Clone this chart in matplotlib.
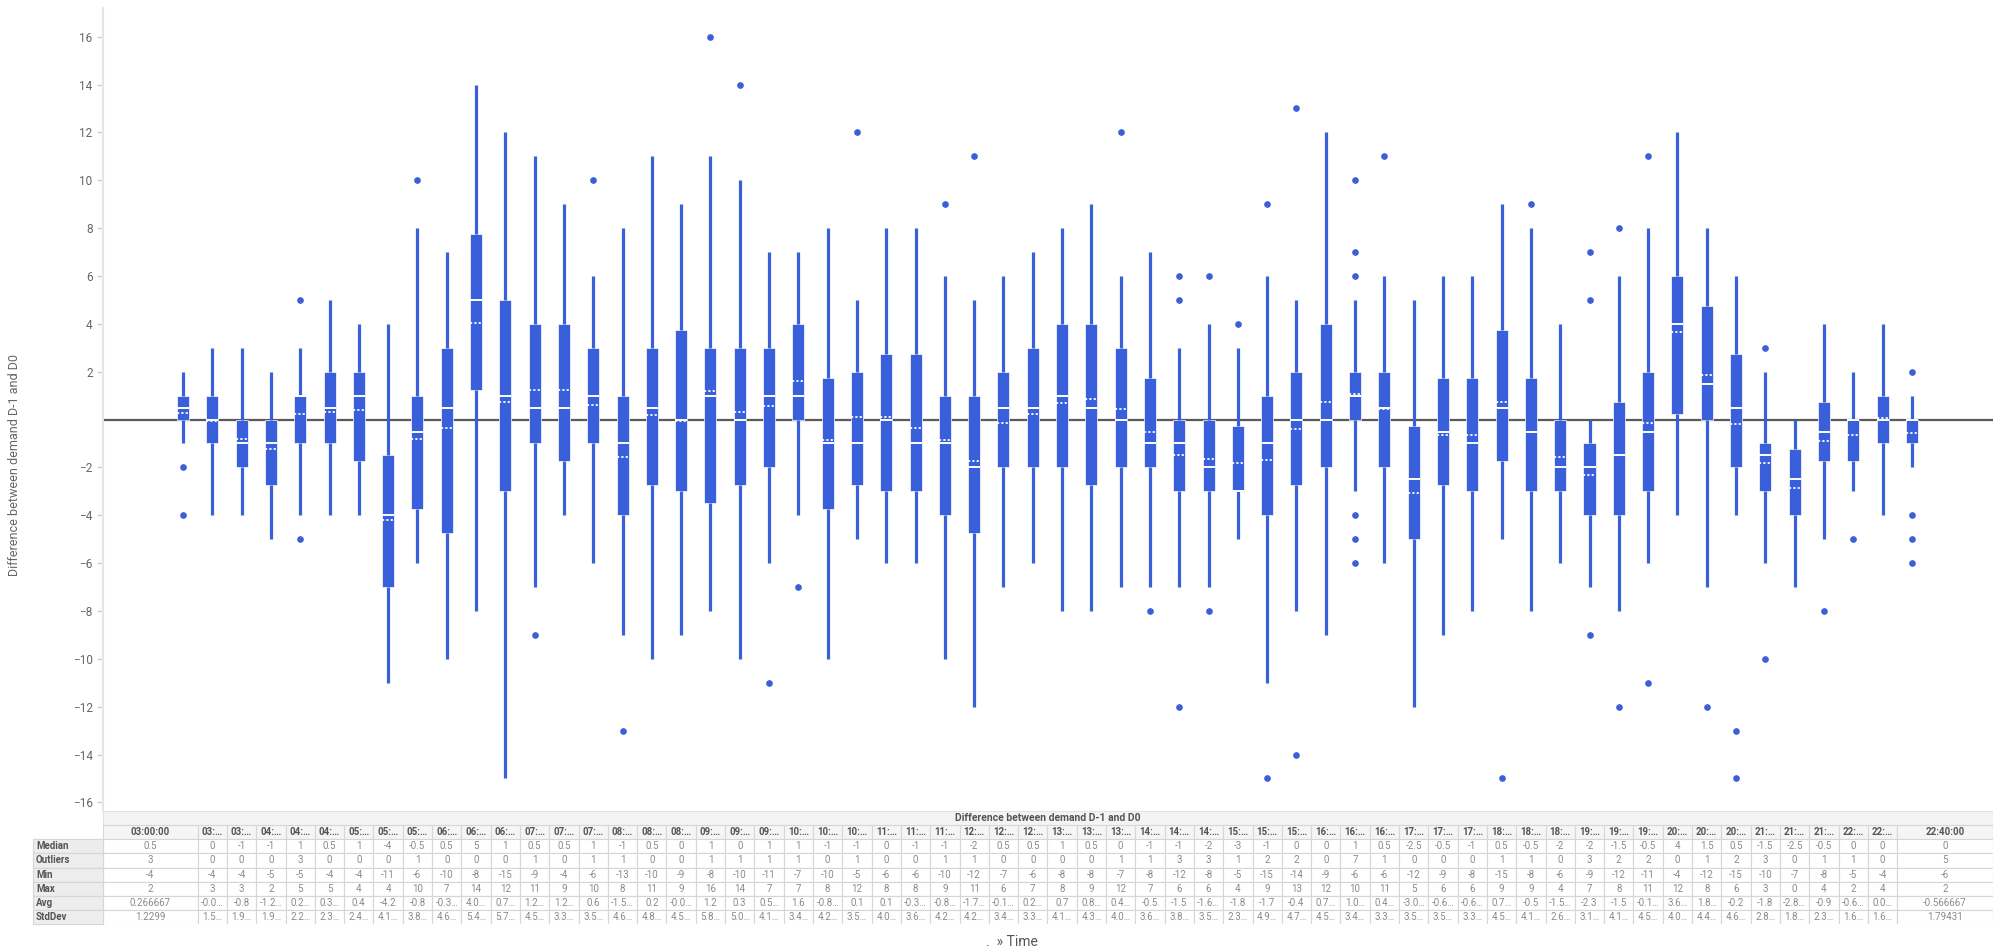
import matplotlib.pyplot as plt
from matplotlib.patches import Rectangle

plt.rcParams['font.family'] = ['Roboto', 'DejaVu Sans']

times = ['03:00:00', '03:20:00', '03:40:00', '04:00:00', '04:20:00', '04:40:00',
         '05:00:00', '05:20:00', '05:40:00', '06:00:00', '06:20:00', '06:40:00',
         '07:00:00', '07:20:00', '07:40:00', '08:00:00', '08:20:00', '08:40:00',
         '09:00:00', '09:20:00', '09:40:00', '10:00:00', '10:20:00', '10:40:00',
         '11:00:00', '11:20:00', '11:40:00', '12:00:00', '12:20:00', '12:40:00',
         '13:00:00', '13:20:00', '13:40:00', '14:00:00', '14:20:00', '14:40:00',
         '15:00:00', '15:20:00', '15:40:00', '16:00:00', '16:20:00', '16:40:00',
         '17:00:00', '17:20:00', '17:40:00', '18:00:00', '18:20:00', '18:40:00',
         '19:00:00', '19:20:00', '19:40:00', '20:00:00', '20:20:00', '20:40:00',
         '21:00:00', '21:20:00', '21:40:00', '22:00:00', '22:20:00', '22:40:00']

median = [0.5, 0, -1, -1, 1, 0.5, 1, -4, -0.5, 0.5,
          5, 1, 0.5, 0.5, 1, -1, 0.5, 0, 1, 0,
          1, 1, -1, -1, 0, -1, -1, -2, 0.5, 0.5,
          1, 0.5, 0, -1, -1, -2, -3, -1, 0, 0,
          1, 0.5, -2.5, -0.5, -1, 0.5, -0.5, -2, -2, -1.5,
          -0.5, 4, 1.5, 0.5, -1.5, -2.5, -0.5, 0, 0, 0]
q1 = [0, -1, -2, -2.75, -1, -1, -1.75, -7, -3.75, -4.75,
      1.25, -3, -1, -1.75, -1, -4, -2.75, -3, -3.5, -2.75,
      -2, 0, -3.75, -2.75, -3, -3, -4, -4.75, -2, -2,
      -2, -2.75, -2, -2, -3, -3, -3, -4, -2.75, -2,
      0, -2, -5, -2.75, -3, -1.75, -3, -3, -4, -4,
      -3, 0.25, 0, -2, -3, -4, -1.75, -1.75, -1, -1]
q3 = [1, 1, 0, 0, 1, 2, 2, -1.5, 1, 3,
      7.75, 5, 4, 4, 3, 1, 3, 3.75, 3, 3,
      3, 4, 1.75, 2, 2.75, 2.75, 1, 1, 2, 3,
      4, 4, 3, 1.75, 0, 0, -0.25, 1, 2, 4,
      2, 2, -0.25, 1.75, 1.75, 3.75, 1.75, 0, -1, 0.75,
      2, 6, 4.75, 2.75, -1, -1.25, 0.75, 0, 1, 0]
whis_lo = [-1, -4, -4, -5, -4, -4, -4, -11, -6, -10,
           -8, -15, -7, -4, -6, -9, -10, -9, -8, -10,
           -6, -4, -10, -5, -6, -6, -10, -12, -7, -6,
           -8, -8, -7, -7, -7, -7, -5, -11, -8, -9,
           -3, -6, -12, -9, -8, -5, -8, -6, -7, -8,
           -6, -4, -7, -4, -6, -7, -5, -3, -4, -2]
whis_hi = [2, 3, 3, 2, 3, 5, 4, 4, 8, 7,
           14, 12, 11, 9, 6, 8, 11, 9, 11, 10,
           7, 7, 8, 5, 8, 8, 6, 5, 6, 7,
           8, 9, 6, 7, 3, 4, 3, 6, 5, 12,
           5, 6, 5, 6, 6, 9, 8, 4, 0, 6,
           8, 12, 8, 6, 2, 0, 4, 2, 4, 1]
mean = [0.267, -0.05, -0.8, -1.25, 0.25, 0.33, 0.4, -4.2, -0.8, -0.35,
        4.05, 0.75, 1.22, 1.22, 0.6, -1.55, 0.2, -0.05, 1.2, 0.3,
        0.55, 1.6, -0.85, 0.1, 0.1, -0.35, -0.85, -1.75, -0.15, 0.25,
        0.7, 0.85, 0.45, -0.5, -1.5, -1.65, -1.8, -1.7, -0.4, 0.75,
        1.05, 0.45, -3.05, -0.65, -0.65, 0.75, -0.5, -1.55, -2.3, -1.5,
        -0.15, 3.65, 1.85, -0.2, -1.8, -2.85, -0.9, -0.65, 0.05, -0.567]
outliers = [[-2, -4], [], [], [], [5, -5], [], [], [], [10], [],
            [], [], [-9], [], [10], [-13], [], [], [16], [14],
            [-11], [-7], [], [12], [], [], [9], [11], [], [],
            [], [], [12], [-8], [6, 5, -12], [6, -8], [4], [9, -15], [13, -14], [],
            [10, 7, 6, -4, -5, -6], [11], [], [], [], [-15], [9], [], [7, 5, -9], [8, -12],
            [11, -11], [], [-12], [-13, -15], [3, -10], [], [-8], [-5], [], [2, -4, -5, -6]]

n_outliers = [3, 0, 0, 0, 3, 0, 0, 0, 1, 0,
              0, 0, 1, 0, 1, 1, 0, 0, 1, 1,
              1, 1, 0, 1, 0, 0, 1, 1, 0, 0,
              0, 0, 1, 1, 3, 3, 1, 2, 2, 0,
              7, 1, 0, 0, 0, 1, 1, 0, 3, 2,
              2, 0, 1, 2, 3, 0, 1, 1, 0, 5]
min_val = [-4, -4, -4, -5, -5, -4, -4, -11, -6, -10,
           -8, -15, -9, -4, -6, -13, -10, -9, -8, -10,
           -11, -7, -10, -5, -6, -6, -10, -12, -7, -6,
           -8, -8, -7, -8, -12, -8, -5, -15, -14, -9,
           -6, -6, -12, -9, -8, -15, -8, -6, -9, -12,
           -11, -4, -12, -15, -10, -7, -8, -5, -4, -6]
max_val = [2, 3, 3, 2, 5, 5, 4, 4, 10, 7,
           14, 12, 11, 9, 10, 8, 11, 9, 16, 14,
           7, 7, 8, 12, 8, 8, 9, 11, 6, 7,
           8, 9, 12, 7, 6, 6, 4, 9, 13, 12,
           10, 11, 5, 6, 6, 9, 9, 4, 7, 8,
           11, 12, 8, 6, 3, 0, 4, 2, 4, 2]
avg_txt = ['0.266667', '-0.0…', '-0.8', '-1.2…', '0.2…', '0.3…', '0.4', '-4.2', '-0.8', '-0.3…',
           '4.0…', '0.7…', '1.2…', '1.2…', '0.6', '-1.5…', '0.2', '-0.0…', '1.2', '0.3',
           '0.5…', '1.6', '-0.8…', '0.1', '0.1', '-0.3…', '-0.8…', '-1.7…', '-0.1…', '0.2…',
           '0.7', '0.8…', '0.4…', '-0.5', '-1.5', '-1.6…', '-1.8', '-1.7', '-0.4', '0.7…',
           '1.0…', '0.4…', '-3.0…', '-0.6…', '-0.6…', '0.7…', '-0.5', '-1.5…', '-2.3', '-1.5',
           '-0.1…', '3.6…', '1.8…', '-0.2', '-1.8', '-2.8…', '-0.9', '-0.6…', '0.0…', '-0.566667']
std_txt = ['1.2299', '1.5…', '1.9…', '1.9…', '2.2…', '2.3…', '2.4…', '4.1…', '3.8…', '4.6…',
           '5.4…', '5.7…', '4.5…', '3.3…', '3.5…', '4.6…', '4.8…', '4.5…', '5.8…', '5.0…',
           '4.1…', '3.4…', '4.2…', '3.5…', '4.0…', '3.6…', '4.2…', '4.2…', '3.4…', '3.3…',
           '4.1…', '4.3…', '4.0…', '3.6…', '3.8…', '3.5…', '2.3…', '4.9…', '4.7…', '4.5…',
           '3.4…', '3.3…', '3.5…', '3.5…', '3.3…', '4.5…', '4.1…', '2.6…', '3.1…', '4.1…',
           '4.5…', '4.0…', '4.4…', '4.6…', '2.8…', '1.8…', '2.3…', '1.6…', '1.6…', '1.79431']
row_names = ['Median', 'Outliers', 'Min', 'Max', 'Avg', 'StdDev']

blue = '#3a5fdb'
n = len(times)
xl, xr = -2.73, 61.77

fig = plt.figure(figsize=(19.99, 9.51), dpi=100)
ax = fig.add_axes([103 / 1999, 1 - 811 / 951, 1890 / 1999, 803 / 951])

stats = []
for i in range(n):
    stats.append(dict(med=median[i], q1=q1[i], q3=q3[i], whislo=whis_lo[i],
                      whishi=whis_hi[i], mean=mean[i], fliers=outliers[i]))

ax.axhline(0, color='#5a5a5a', lw=1.6, zorder=1)
ax.bxp(stats, positions=range(n), widths=0.41, patch_artist=True,
       showmeans=True, meanline=True, showcaps=False,
       boxprops=dict(facecolor=blue, edgecolor='white', linewidth=0.5),
       whiskerprops=dict(color=blue, linewidth=2.3, solid_capstyle='butt'),
       medianprops=dict(color='white', linewidth=1.4),
       meanprops=dict(color='white', linestyle=(0, (1.2, 1.2)), linewidth=1.3),
       flierprops=dict(marker='o', markersize=3.8, markerfacecolor=blue,
                       markeredgecolor=blue))

ax.set_xlim(xl, xr)
ax.set_ylim(-16.36, 17.2)
ax.set_xticks([])
ax.set_yticks([v for v in range(-16, 17, 2) if v != 0])
ax.tick_params(axis='y', colors='#cccccc', labelcolor='#666666', labelsize=8.5, length=4, width=1)
for s in ['top', 'right', 'bottom']:
    ax.spines[s].set_visible(False)
ax.spines['left'].set_color('#e4e4ec')
ax.spines['left'].set_linewidth(1.5)

fig.text(15 / 1999, 1 - 465 / 951, 'Difference between demand D-1 and D0', rotation=90,
         ha='center', va='center', fontsize=9, color='#666666')

# table under the plot
tab = fig.add_axes([103 / 1999, 1 - 924 / 951, 1890 / 1999, 113 / 951])
tab.set_xlim(xl, xr)
tab.set_ylim(8, 0)
tab.axis('off')

edges = [xl] + [i + 0.5 for i in range(n - 1)] + [xr]
line_c = '#d6d6d6'
lab_left = xl - 70 / 29.3

tab.add_patch(Rectangle((xl, 0), xr - xl, 1, facecolor='#f4f4f4', edgecolor='#e2e2e2', lw=0.8))
tab.text((xl + xr) / 2, 0.5, 'Difference between demand D-1 and D0', ha='center', va='center',
         fontsize=7.5, fontweight='bold', color='#555555')

headers = [times[0]] + [t[:3] + '…' for t in times[1:-1]] + [times[-1]]
rows = [[f'{v:g}' for v in median], [str(v) for v in n_outliers],
        [str(v) for v in min_val], [str(v) for v in max_val], avg_txt, std_txt]

for j in range(n):
    x0, x1 = edges[j], edges[j + 1]
    tab.add_patch(Rectangle((x0, 1), x1 - x0, 1, facecolor='#f5f5f5', edgecolor=line_c, lw=0.8))
    tab.text((x0 + x1) / 2, 1.5, headers[j], ha='center', va='center', fontsize=7,
             fontweight='bold', color='#555555')
    for r in range(6):
        tab.add_patch(Rectangle((x0, 2 + r), x1 - x0, 1, facecolor='white', edgecolor=line_c, lw=0.8))
        tab.text((x0 + x1) / 2, 2.5 + r, rows[r][j], ha='center', va='center', fontsize=7,
                 color='#8a8a8a')

for r in range(6):
    tab.add_patch(Rectangle((lab_left, 2 + r), xl - lab_left, 1, facecolor='#ededed',
                            edgecolor=line_c, lw=0.8, clip_on=False))
    tab.text(lab_left + 0.1, 2.5 + r, row_names[r], ha='left', va='center', fontsize=7,
             fontweight='bold', color='#555555', clip_on=False)

fig.text(1012 / 1999, 1 - 942 / 951, '.  » Time', ha='center', va='center', fontsize=10,
         color='#555555')

fig.savefig('out.png', dpi=100)
